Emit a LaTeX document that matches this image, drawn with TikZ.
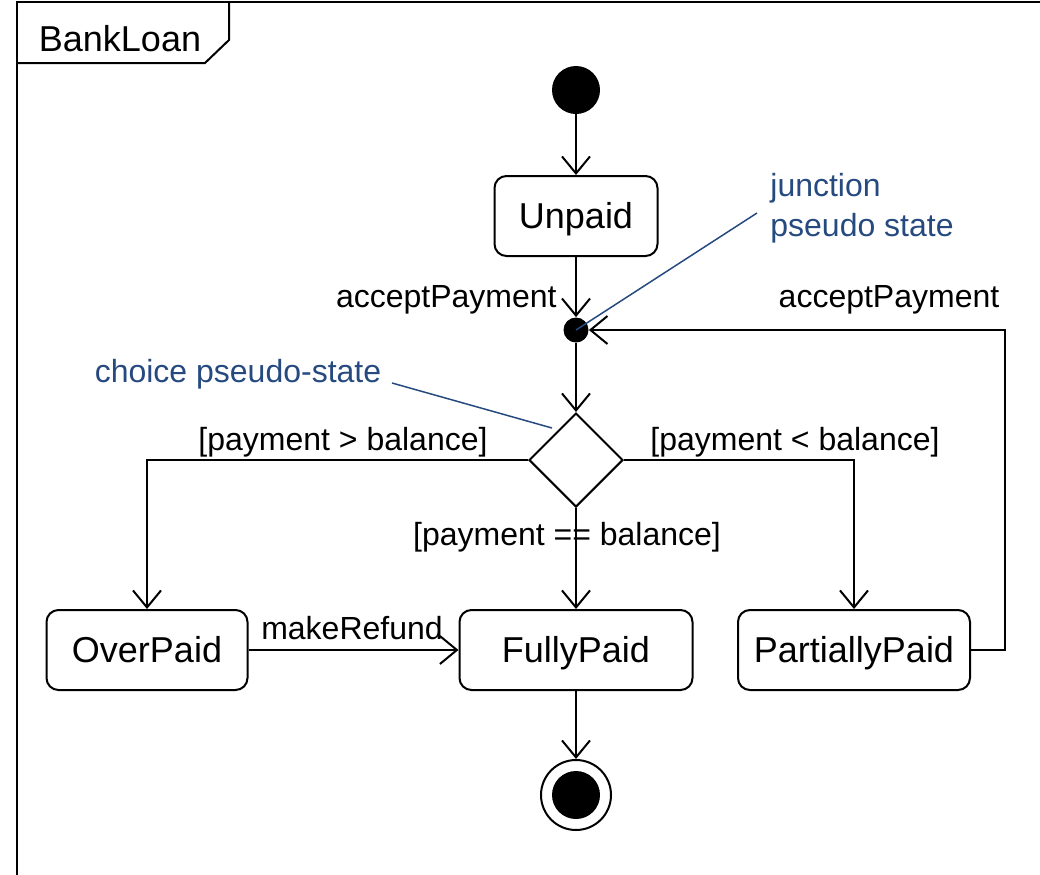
\documentclass[tikz,border=0pt]{standalone}
\usepackage{fontspec}
\setmainfont{Liberation Sans}
\usetikzlibrary{shapes.geometric, arrows.meta, positioning, calc}
\definecolor{noteblue}{RGB}{38, 74, 128}

\begin{document}
\begin{tikzpicture}[x=0.5pt, y=-0.5pt,
  state/.style={draw, line width=1pt, rounded corners=6pt, minimum height=40pt, inner sep=0pt, text height=15.5pt, text depth=3pt, font=\fontsize{18}{21}\selectfont},
  trans/.style={line width=1pt, -{Straight Barb[length=8.5pt, width=14pt, line width=1pt]}},
  lbl/.style={font=\fontsize{16}{20}\selectfont, inner sep=0pt},
  note/.style={lbl, text=noteblue, align=left},
  noteline/.style={draw=noteblue, line width=0.75pt}]
  \useasboundingbox (0,0) rectangle (1040,874);
  \clip (0,0) rectangle (1040,874);

  % frame with name tab
  \draw[line width=1pt] (17,900) -- (17,2) -- (1060,2);
  \draw[line width=1pt] (17,63) -- (205,63) -- (229,40) -- (229,2);
  \node[lbl, font=\fontsize{18}{21}\selectfont] (title) at (120,39) {BankLoan};

  % states and pseudo states
  \node[circle, fill, minimum size=24pt, inner sep=0pt] (init) at (576,90) {};
  \node[state, minimum width=81.5pt] (unpaid) at (576,216) {Unpaid};
  \node[circle, fill, minimum size=12.5pt, inner sep=0pt] (junc) at (576,330) {};
  \node[diamond, draw, line width=1pt, minimum width=47pt, minimum height=47pt, inner sep=0pt] (choice) at (576,460) {};
  \node[state, minimum width=100.5pt] (over) at (147,650) {OverPaid};
  \node[state, minimum width=116.5pt] (fully) at (576,650) {FullyPaid};
  \node[state, minimum width=116pt] (partial) at (854,650) {PartiallyPaid};
  \node[circle, draw, line width=1pt, minimum size=35pt, inner sep=0pt,
    path picture={\fill (path picture bounding box.center) circle (12pt);}] (final) at (576,795) {};
  \coordinate (loop) at (1005,650);

  % transitions
  \draw[trans] (init) -- (unpaid);
  \draw[trans] (unpaid) -- (junc);
  \draw[trans] (partial.east) -- (loop) |- (junc.east);
  \draw[trans] (junc) -- (choice.north);
  \draw[trans] (choice.west) -| (over.north);
  \draw[trans] (choice.east) -| (partial.north);
  \draw[trans] (choice.south) -- (fully.north);
  \draw[trans] (over) -- (fully);
  \draw[trans] (fully) -- (final);

  % transition labels
  \node[lbl, anchor=east] (lpay) at (557,300) {acceptPayment};
  \node[lbl] (rpay) at (889,300) {acceptPayment};
  \node[lbl] (gover) at (343,442) {[payment > balance]};
  \node[lbl] (gpart) at (795,442) {[payment < balance]};
  \node[lbl] (gfull) at (567,537) {[payment == balance]};
  \node[lbl] (refund) at (352,628) {makeRefund};

  % notes
  \node[note, anchor=west] (jnote) at (770,208) {junction\\pseudo state};
  \node[note] (cnote) at (238,374) {choice pseudo-state};
  \draw[noteline] (757,213) -- (junc.center);
  \draw[noteline] (392,383) -- (552,428);
\end{tikzpicture}
\end{document}
